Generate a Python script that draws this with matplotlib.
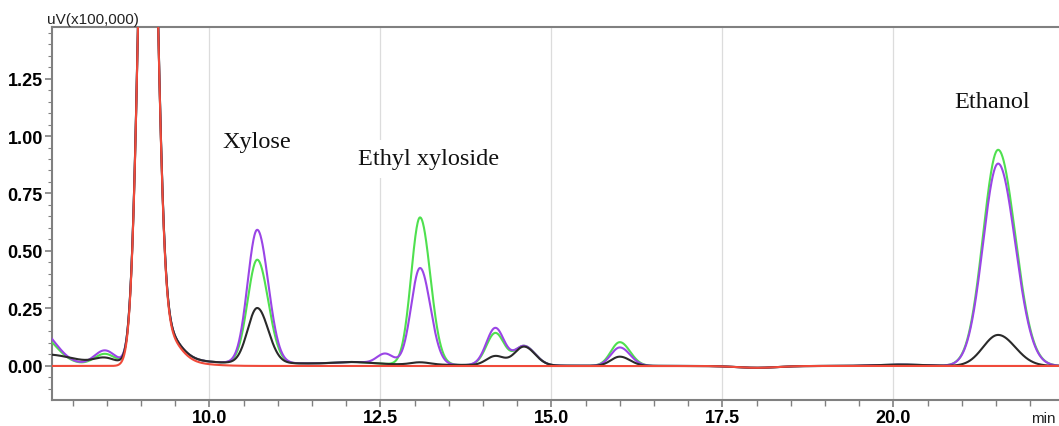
import numpy as np
import matplotlib
matplotlib.use("Agg")
import matplotlib.pyplot as plt
from matplotlib.ticker import MultipleLocator, FormatStrFormatter

# ---- peak table (time in min, signal in uV x 100,000) ----
peak_rt      = [7.50, 7.60, 8.47, 9.10, 9.30, 9.50, 10.70, 12.10, 12.57, 13.08, 14.18, 14.60, 16.00, 18.00, 20.10, 21.53, 10.50]
peak_sigma_l = [0.25, 0.40, 0.15, 0.12, 0.10, 0.20, 0.14, 0.25, 0.12, 0.13, 0.13, 0.14, 0.13, 0.30, 0.35, 0.22, 2.20]
peak_sigma_r = [0.25, 0.40, 0.15, 0.12, 0.22, 0.40, 0.16, 0.25, 0.12, 0.15, 0.13, 0.16, 0.15, 0.30, 0.35, 0.25, 2.20]
height_red    = [0.000, 0.000, 0.000, 3.00, 0.140, 0.015, 0.00, 0.000, 0.000, 0.000, 0.000, 0.000, 0.000, -0.008, 0.000, 0.000, 0.000]
height_black  = [0.000, 0.045, 0.025, 3.00, 0.140, 0.015, 0.24, 0.008, 0.000, 0.010, 0.040, 0.082, 0.040, -0.008, 0.006, 0.135, 0.012]
height_green  = [0.135, 0.000, 0.045, 3.00, 0.140, 0.015, 0.45, 0.008, 0.000, 0.640, 0.140, 0.085, 0.103, -0.008, 0.006, 0.940, 0.012]
height_purple = [0.155, 0.000, 0.060, 3.00, 0.140, 0.015, 0.58, 0.008, 0.045, 0.420, 0.162, 0.085, 0.080, -0.008, 0.006, 0.880, 0.012]

series_names  = ["green", "purple", "black", "red"]
series_colors = ["#4fe04f", "#9a45e6", "#2a2a2a", "#f04a3a"]

peak_labels = ["Xylose", "Ethyl xyloside", "Ethanol"]
label_rt    = [10.70, 13.20, 21.44]
label_y     = [0.975, 0.90, 1.148]

x_ticks = [10.0, 12.5, 15.0, 17.5, 20.0]
y_ticks = [0.00, 0.25, 0.50, 0.75, 1.00, 1.25]


def chromatogram(t, heights):
    y = np.zeros_like(t)
    for c, sl, sr, h in zip(peak_rt, peak_sigma_l, peak_sigma_r, heights):
        s = np.where(t < c, sl, sr)
        y += h * np.exp(-0.5 * ((t - c) / s) ** 2)
    return y


heights = {"red": height_red, "black": height_black,
           "green": height_green, "purple": height_purple}

W, H = 1059, 427
fig = plt.figure(figsize=(W / 100, H / 100), dpi=100)
ax = fig.add_axes([52 / W, 1 - 401 / H, (W - 52) / W, (401 - 28) / H])

xmin, xmax = 7.70, 22.42
t = np.linspace(xmin, xmax, 4000)

for name, col in zip(series_names, series_colors):
    ax.plot(t, chromatogram(t, heights[name]), color=col, lw=1.5, zorder=3)

ax.set_xlim(xmin, xmax)
ax.set_ylim(-0.148, 1.474)

ax.set_xticks(x_ticks)
ax.set_yticks(y_ticks)
ax.xaxis.set_minor_locator(MultipleLocator(0.5))
ax.yaxis.set_minor_locator(MultipleLocator(0.05))
ax.xaxis.set_major_formatter(FormatStrFormatter("%.1f"))
ax.yaxis.set_major_formatter(FormatStrFormatter("%.2f"))

ax.grid(axis="x", which="major", color="#dcdcdc", lw=0.9, zorder=0)
for sp in ["left", "bottom", "top"]:
    ax.spines[sp].set_color("#808080")
    ax.spines[sp].set_linewidth(1.5)
ax.spines["right"].set_visible(False)

ax.tick_params(axis="both", which="major", direction="out", length=5, width=1.2,
               color="#808080", labelsize=13, pad=1.5)
ax.tick_params(axis="x", which="minor", direction="out", length=4, width=1.0, color="#808080")
ax.tick_params(axis="y", which="minor", direction="out", length=3, width=0.8, color="#808080")
for lab in ax.get_xticklabels() + ax.get_yticklabels():
    lab.set_fontweight("bold")
    lab.set_family("Liberation Sans")

for txt, x, y in zip(peak_labels, label_rt, label_y):
    ax.text(x, y, txt, ha="center", va="center", fontsize=17.5, family="Liberation Serif",
            color="#111111", zorder=2,
            bbox=dict(facecolor="white", edgecolor="none", pad=6))

fig.text(47 / W, 1 - 20 / H, "uV(x100,000)", ha="left", va="center", fontsize=11,
         family="Liberation Sans", color="#222222")
fig.text(1056 / W, 1 - 419 / H, "min", ha="right", va="center", fontsize=11,
         family="Liberation Sans", color="#222222")

fig.savefig("out.png", dpi=100)
